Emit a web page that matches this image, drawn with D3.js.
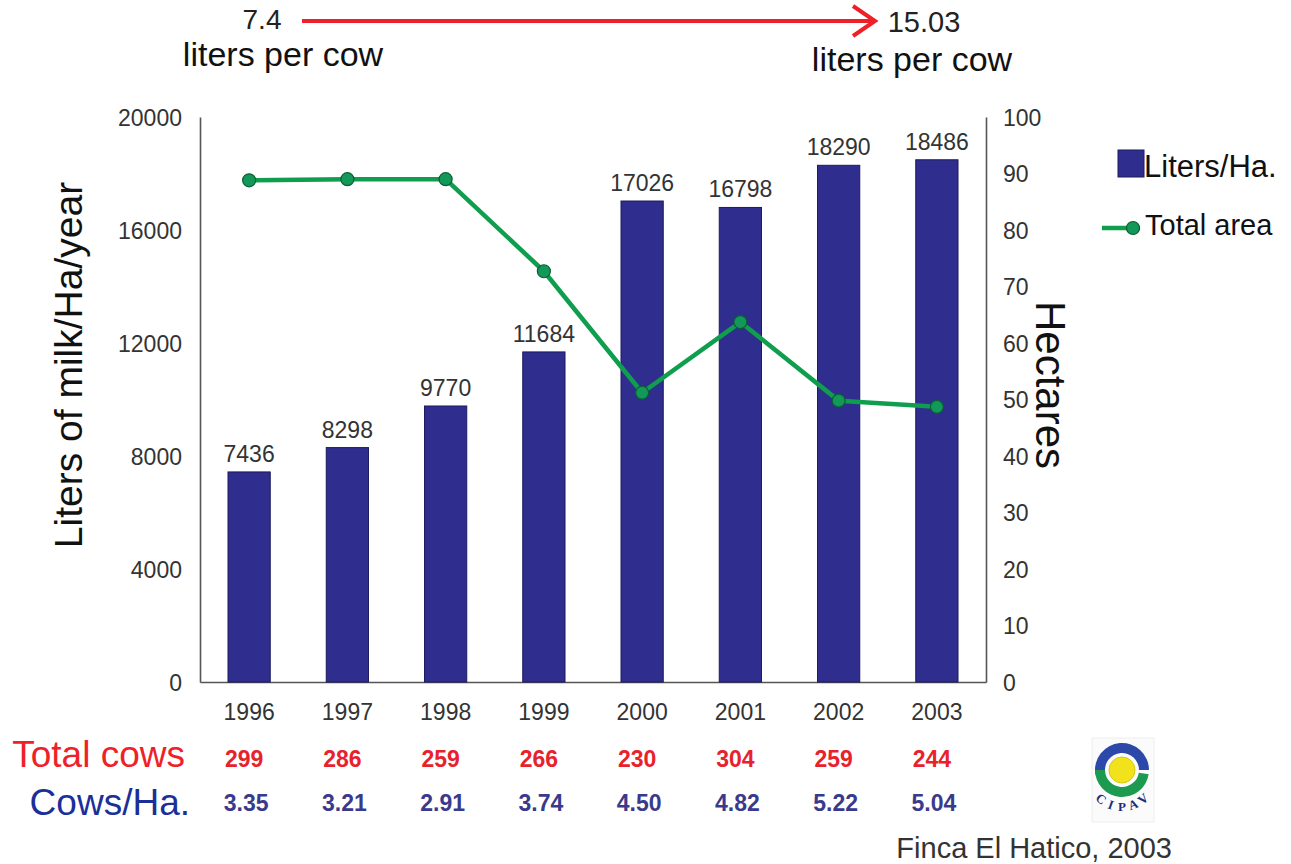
<!DOCTYPE html>
<html><head><meta charset="utf-8">
<script src="https://cdn.jsdelivr.net/npm/d3@7/dist/d3.min.js"></script>
<style>
html,body{margin:0;padding:0;background:#fff;}
svg{display:block;font-family:"Liberation Sans",Arial,sans-serif;}
</style></head>
<body>
<svg id="chart" width="1291" height="864"></svg>
<script>
const years = ["1996","1997","1998","1999","2000","2001","2002","2003"];
const litersPerHa = [7436, 8298, 9770, 11684, 17026, 16798, 18290, 18486];
const totalArea = [88.8, 89.0, 89.0, 72.7, 51.2, 63.7, 49.8, 48.7];
const totalCows = ["299","286","259","266","230","304","259","244"];
const cowsPerHa = ["3.35","3.21","2.91","3.74","4.50","4.82","5.22","5.04"];
const leftTicks = [0, 4000, 8000, 12000, 16000, 20000];
const rightTicks = [0,10,20,30,40,50,60,70,80,90,100];

const svg = d3.select("#chart");
const L = 200, R = 986, T = 117, B = 682;
const barColor = "#2f2d8e", barStroke = "#1d1b5e";
const green = "#0e9e4e", greenDark = "#0b5e33";
const red = "#ee2128";

const x = d3.scaleBand().domain(years).range([L, R]).paddingInner(0.57).paddingOuter(0.285);
const yL = d3.scaleLinear().domain([0, 20000]).range([B, T]);
const yR = d3.scaleLinear().domain([0, 100]).range([B, T]);

// axes
const axL = svg.append("g").attr("transform", `translate(${L},0)`)
  .call(d3.axisLeft(yL).tickValues(leftTicks).tickSize(0).tickPadding(18).tickFormat(d3.format("d")));
const axR = svg.append("g").attr("transform", `translate(${R},0)`)
  .call(d3.axisRight(yR).tickValues(rightTicks).tickSize(0).tickPadding(17).tickFormat(d3.format("d")));
const axB = svg.append("g").attr("transform", `translate(0,${B})`)
  .call(d3.axisBottom(x).tickSize(0).tickPadding(22));
[axL, axR, axB].forEach(g => {
  g.selectAll(".domain").attr("stroke", "#555").attr("stroke-width", 1.6);
  g.selectAll("text").attr("font-size", 23).attr("fill", "#333").attr("font-family", "Liberation Sans, Arial, sans-serif");
});
axL.selectAll(".tick text").attr("dy", "0.35em");
axR.selectAll(".tick text").attr("dy", "0.35em");

// bars
svg.append("g").selectAll("rect").data(years).join("rect")
  .attr("x", d => x(d)).attr("width", x.bandwidth())
  .attr("y", (d, i) => yL(litersPerHa[i]))
  .attr("height", (d, i) => B - yL(litersPerHa[i]))
  .attr("fill", barColor).attr("stroke", barStroke).attr("stroke-width", 1);

// bar labels
svg.append("g").selectAll("text").data(years).join("text")
  .attr("x", d => x(d) + x.bandwidth() / 2)
  .attr("y", (d, i) => yL(litersPerHa[i]) - 10)
  .attr("text-anchor", "middle").attr("font-size", 23).attr("fill", "#333")
  .text((d, i) => litersPerHa[i]);

// line
const line = d3.line().x((d, i) => x(years[i]) + x.bandwidth() / 2).y(d => yR(d));
svg.append("path").datum(totalArea).attr("d", line)
  .attr("fill", "none").attr("stroke", green).attr("stroke-width", 4.5).attr("stroke-linejoin", "round");
svg.append("g").selectAll("circle").data(totalArea).join("circle")
  .attr("cx", (d, i) => x(years[i]) + x.bandwidth() / 2).attr("cy", d => yR(d))
  .attr("r", 6.5).attr("fill", "#12995a").attr("stroke", greenDark).attr("stroke-width", 1.2);

// axis titles
svg.append("text").attr("transform", "translate(82,365) rotate(-90)")
  .attr("text-anchor", "middle").attr("font-size", 39).attr("fill", "#111")
  .text("Liters of milk/Ha/year");
svg.append("text").attr("transform", "translate(1036,385) rotate(90)")
  .attr("text-anchor", "middle").attr("font-size", 42).attr("fill", "#111")
  .text("Hectares");

// legend
svg.append("rect").attr("x", 1118).attr("y", 150).attr("width", 26).attr("height", 27)
  .attr("fill", barColor).attr("stroke", barStroke);
svg.append("text").attr("x", 1144).attr("y", 177).attr("font-size", 31).attr("fill", "#111").text("Liters/Ha.");
svg.append("line").attr("x1", 1102).attr("x2", 1140).attr("y1", 228).attr("y2", 228)
  .attr("stroke", green).attr("stroke-width", 4.5);
svg.append("circle").attr("cx", 1133).attr("cy", 228).attr("r", 6.5)
  .attr("fill", "#12995a").attr("stroke", greenDark).attr("stroke-width", 1.2);
svg.append("text").attr("x", 1145).attr("y", 235).attr("font-size", 29).attr("fill", "#111").text("Total area");

// top annotation
svg.append("line").attr("x1", 302).attr("x2", 874).attr("y1", 21).attr("y2", 21)
  .attr("stroke", red).attr("stroke-width", 4);
svg.append("path").attr("d", "M853,6 L875,21 L853,36").attr("fill", "none")
  .attr("stroke", red).attr("stroke-width", 4).attr("stroke-linejoin", "miter");
svg.append("text").attr("x", 262).attr("y", 29).attr("text-anchor", "middle").attr("font-size", 28).attr("fill", "#222").text("7.4");
svg.append("text").attr("x", 283).attr("y", 66).attr("text-anchor", "middle").attr("font-size", 34).attr("fill", "#111").text("liters per cow");
svg.append("text").attr("x", 924).attr("y", 32).attr("text-anchor", "middle").attr("font-size", 29).attr("fill", "#222").text("15.03");
svg.append("text").attr("x", 912).attr("y", 71).attr("text-anchor", "middle").attr("font-size", 34).attr("fill", "#111").text("liters per cow");

// bottom table
svg.append("text").attr("x", 185).attr("y", 767).attr("text-anchor", "end").attr("font-size", 37).attr("fill", red).text("Total cows");
svg.append("text").attr("x", 190).attr("y", 815).attr("text-anchor", "end").attr("font-size", 37).attr("fill", "#1b2f98").text("Cows/Ha.");
svg.append("g").selectAll("text").data(years).join("text")
  .attr("x", d => x(d) + x.bandwidth() / 2 - 5).attr("y", 767)
  .attr("text-anchor", "middle").attr("font-size", 23).attr("font-weight", "bold").attr("fill", "#e8222c")
  .text((d, i) => totalCows[i]);
svg.append("g").selectAll("text").data(years).join("text")
  .attr("x", d => x(d) + x.bandwidth() / 2 - 3).attr("y", 811)
  .attr("text-anchor", "middle").attr("font-size", 23).attr("font-weight", "bold").attr("fill", "#3a3a8c")
  .text((d, i) => cowsPerHa[i]);

// source
svg.append("text").attr("x", 1172).attr("y", 858).attr("text-anchor", "end").attr("font-size", 29).attr("fill", "#333").text("Finca El Hatico, 2003");

// CIPAV logo
const logo = svg.append("g").attr("transform", "translate(1122,770)");
logo.append("rect").attr("x", -30).attr("y", -32).attr("width", 62).attr("height", 84).attr("fill", "#fbfbfb").attr("stroke", "#eee");
const arc = d3.arc().innerRadius(17).outerRadius(27);
logo.append("path").attr("d", arc({startAngle: -Math.PI * 0.55, endAngle: Math.PI * 0.5})).attr("fill", "#2c48a8");
logo.append("path").attr("d", arc({startAngle: Math.PI * 0.55, endAngle: Math.PI * 1.5})).attr("fill", "#1c9a50");
logo.append("circle").attr("r", 13).attr("fill", "#f2e21c").attr("stroke", "#d8c810");
["C","I","P","A","V"].forEach((c, i) => {
  const t = -40 + i * 20;
  const a = t * Math.PI / 180;
  const r = 37;
  const px = r * Math.sin(a), py = r * Math.cos(a) + 4;
  logo.append("text").attr("x", px).attr("y", py)
    .attr("transform", `rotate(${-t} ${px} ${py})`)
    .attr("text-anchor", "middle").attr("font-size", 13).attr("font-weight", "bold")
    .attr("font-family", "Liberation Serif, serif")
    .attr("fill", "#1e2d7a").text(c);
});
</script>
</body></html>
